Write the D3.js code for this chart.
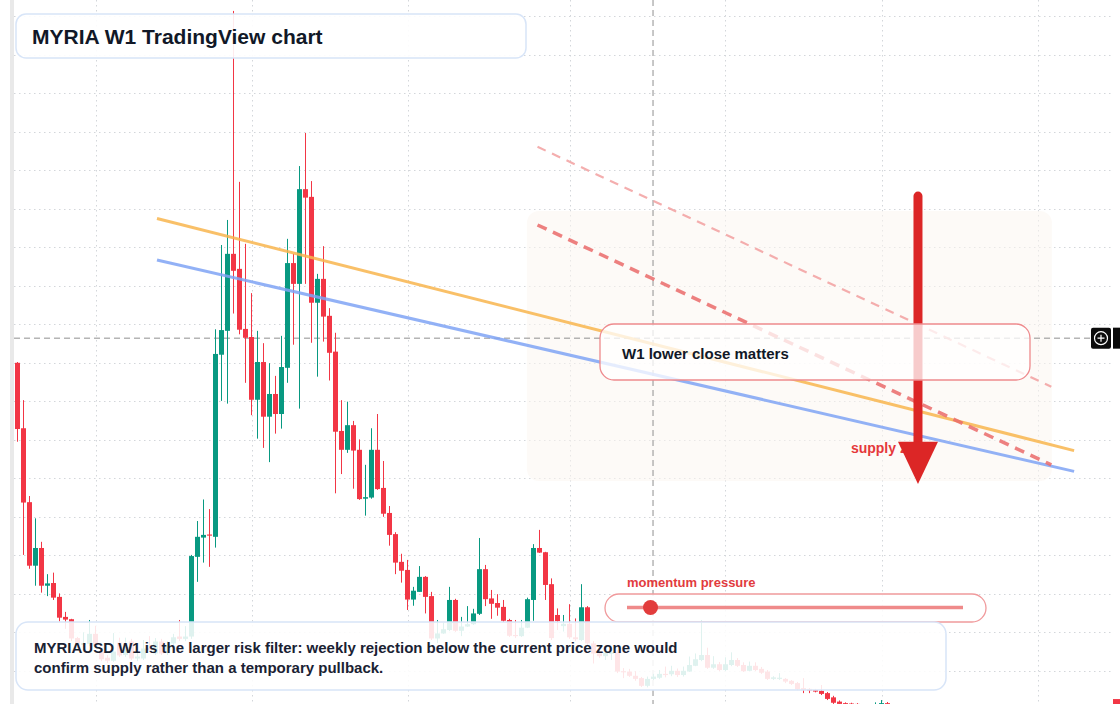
<!DOCTYPE html>
<html>
<head>
<meta charset="utf-8">
<script src="https://cdn.jsdelivr.net/npm/d3@7"></script>
<style>
html,body{margin:0;padding:0;background:#fff;overflow:hidden;}
svg{display:block;font-family:"Liberation Sans",Arial,Helvetica,sans-serif;}
</style>
</head>
<body>
<svg id="chart" width="1120" height="704"></svg>
<script>
// ---- data (weekly candles, price in 0.001 USD units) ----
const open = [9.00,7.30,5.38,3.73,4.19,3.21,3.28,2.92,2.40,2.34,
1.85,1.67,1.70,1.96,1.50,1.34,1.26,1.73,1.41,1.76,
1.32,1.32,1.59,1.45,1.76,1.46,1.71,1.89,1.83,1.89,
3.96,4.46,4.54,4.48,9.21,9.83,11.83,11.44,9.88,9.67,
8.04,9.02,7.60,8.19,7.67,8.87,11.59,11.05,13.51,13.31,
10.56,11.18,10.22,9.29,7.23,6.74,7.38,6.74,5.47,5.50,
6.74,5.75,5.10,4.55,3.83,3.62,2.85,3.05,3.44,2.94,
1.84,1.97,2.06,2.84,2.04,2.15,2.21,2.48,3.64,2.88,
2.76,2.66,2.32,1.93,1.90,2.12,2.84,4.19,4.08,3.25,
2.45,2.16,2.22,1.87,1.80,2.65,1.71,1.45,1.38,1.44,
1.48,0.99,0.98,0.87,0.81,0.61,0.79,0.82,0.92,0.91,
1.00,0.89,0.98,1.13,1.28,1.41,1.08,1.17,1.02,1.15,
1.28,1.15,1.00,1.13,1.05,0.98,0.79,0.79,0.79,0.74,
0.68,0.55,0.53,0.50,0.48,0.42,0.31,0.20,0.16,0.15,
0.14,0.10,0.09,0.06,0.11,0.16];
const high = [9.02,8.03,5.54,4.96,4.35,3.51,3.55,3.01,2.53,2.35,
1.88,2.00,2.32,2.17,1.59,1.41,1.98,1.86,1.86,1.83,
1.49,1.80,1.90,1.85,1.83,1.77,1.96,2.32,2.16,4.01,
4.89,5.45,5.20,9.87,12.06,12.71,18.14,13.70,12.09,10.81,
9.83,9.51,8.99,8.66,9.70,12.22,11.83,14.11,14.97,13.72,
11.31,12.03,10.42,9.78,8.03,7.99,7.49,7.01,6.35,7.30,
7.67,6.45,5.28,4.60,4.04,3.88,3.18,3.72,3.46,3.05,
2.32,2.25,3.18,2.87,2.40,2.68,2.61,4.45,3.75,3.10,
2.99,2.84,2.35,2.32,2.32,2.90,4.29,4.66,4.09,3.40,
2.62,2.45,2.73,2.36,3.25,2.68,1.77,1.54,1.59,1.54,
1.54,1.07,1.05,0.99,0.84,0.85,0.92,1.02,1.11,1.13,
1.06,1.11,1.37,1.45,2.32,1.60,1.38,1.23,1.35,1.48,
1.33,1.22,1.24,1.22,1.10,1.02,0.86,0.94,0.81,0.76,
0.71,0.81,0.55,0.53,0.63,0.45,0.35,0.23,0.18,0.17,
0.16,0.11,0.10,0.18,0.24,0.19];
const low = [6.95,4.01,3.65,3.21,3.03,2.94,2.84,2.28,2.09,1.77,
1.59,1.54,1.64,1.62,1.25,1.20,1.23,1.36,1.36,1.28,
1.25,1.28,1.49,1.41,1.41,1.41,1.67,1.77,1.77,1.83,
3.31,3.81,3.70,4.20,8.01,7.94,10.28,9.74,8.48,7.64,
7.03,6.79,6.42,7.16,7.29,8.48,9.47,7.81,11.05,9.52,
8.64,9.55,8.54,5.61,6.11,6.66,5.73,5.44,5.03,5.47,
5.70,5.00,4.25,3.51,3.29,2.58,2.69,3.05,2.49,1.80,
1.72,1.96,2.03,2.01,1.90,2.14,2.19,2.45,2.68,2.35,
2.43,2.27,1.88,1.85,1.88,2.11,2.30,4.06,2.84,1.80,
2.06,2.02,1.83,1.77,1.77,1.67,1.19,1.33,1.28,1.28,
0.94,0.81,0.84,0.74,0.58,0.57,0.76,0.79,0.83,0.86,
0.84,0.85,0.97,1.12,1.25,1.05,1.05,0.99,0.99,1.12,
1.10,0.97,0.99,0.99,0.92,0.76,0.76,0.76,0.68,0.63,
0.50,0.42,0.42,0.44,0.37,0.24,0.14,0.09,0.06,0.06,
0.03,0.01,0.01,0.03,0.07,0.06];
const close = [7.28,5.37,3.73,4.19,3.21,3.27,2.90,2.38,2.33,1.84,
1.65,1.72,1.96,1.65,1.30,1.26,1.50,1.40,1.63,1.32,
1.37,1.58,1.54,1.76,1.45,1.67,1.87,1.83,1.89,3.98,
4.48,4.53,4.51,9.23,9.85,11.83,11.39,9.86,9.65,8.04,
9.02,7.60,8.19,7.67,8.89,11.59,11.05,13.51,13.29,10.56,
11.18,10.20,9.26,7.21,6.74,7.38,6.72,5.46,5.51,6.74,
5.72,5.08,4.53,3.81,3.60,2.85,3.08,3.44,2.92,1.84,
1.97,2.08,2.84,2.04,2.15,2.21,2.49,3.64,2.86,2.74,
2.64,2.30,1.91,1.90,2.12,2.86,4.19,4.07,3.23,1.85,
2.29,2.22,1.87,1.82,2.65,1.71,1.45,1.38,1.47,1.48,
0.98,0.96,0.87,0.79,0.61,0.79,0.85,0.92,0.89,1.00,
0.89,1.00,1.15,1.30,1.41,1.08,1.17,1.02,1.17,1.28,
1.13,0.99,1.13,1.02,0.95,0.79,0.83,0.82,0.72,0.66,
0.52,0.50,0.49,0.46,0.40,0.27,0.17,0.14,0.11,0.10,
0.09,0.06,0.05,0.11,0.16,0.11];

// grid: week indices of vertical lines, price levels of horizontal lines
const gridWeeks = [13, 39, 65, 92, 118, 144, 170];
const gridPrices = d3.range(1, 19);

// drawn annotations (week index, price)
const orangeLine = [{w: 23.25, p: 12.75}, {w: 176.1, p: 6.72}];
const blueLine   = [{w: 23.25, p: 11.67}, {w: 176.1, p: 6.18}];
const dashLight  = [{w: 86.67, p: 14.61}, {w: 172.3, p: 8.38}];
const dashRed    = [{w: 86.67, p: 12.58}, {w: 172.3, p: 6.35}];
const zoneWeeks  = [84.9, 172.4];
const zonePrices = [12.94, 5.93];
const arrowWeek  = 150.08;
const arrowPrices = [13.33, 6.95, 5.85];   // top, head base, tip
const supplyLabel = {w: 138.9, p: 6.66, text: "supply zone"};
const crosshair = {w: 105.92, p: 9.64};
const momentumValue = 0.07;

const titleText = "MYRIA W1 TradingView chart";
const noteLines = ["MYRIAUSD W1 is the larger risk filter: weekly rejection below the current price zone would",
                   "confirm supply rather than a temporary pullback."];
const calloutText = "W1 lower close matters";
const momentumLabel = "momentum pressure";

// ---- scales ----
const W = 1120, H = 704;
const x = d3.scaleLinear().domain([0, 145]).range([17.5, 887.5]);
const y = d3.scaleLinear().domain([0, 18]).range([709.3, 16.3]);

const svg = d3.select("#chart");
svg.append("rect").attr("width", W).attr("height", H).attr("fill", "#ffffff");

// left pane edge
svg.append("rect").attr("x", 10).attr("y", 0).attr("width", 4).attr("height", H).attr("fill", "#e9e9e9");

// grid
const grid = svg.append("g").attr("stroke", "#d3d6da").attr("stroke-width", 1).attr("stroke-dasharray", "1.5,3.5");
grid.selectAll("line.h").data(gridPrices).join("line")
  .attr("x1", 14).attr("x2", 1112)
  .attr("y1", d => Math.round(y(d)) + 0.5).attr("y2", d => Math.round(y(d)) + 0.5);
grid.selectAll("line.v").data(gridWeeks).join("line")
  .attr("x1", d => Math.round(x(d)) + 0.5).attr("x2", d => Math.round(x(d)) + 0.5)
  .attr("y1", 0).attr("y2", H);

// supply zone shading
svg.append("rect")
  .attr("x", x(zoneWeeks[0])).attr("width", x(zoneWeeks[1]) - x(zoneWeeks[0]))
  .attr("y", y(zonePrices[0])).attr("height", y(zonePrices[1]) - y(zonePrices[0]))
  .attr("rx", 12).attr("fill", "#fcf6f0").attr("opacity", 0.55);

// crosshair lines
svg.append("line").attr("x1", x(crosshair.w)).attr("x2", x(crosshair.w)).attr("y1", 0).attr("y2", H)
  .attr("stroke", "#8f8f8f").attr("stroke-width", 1).attr("stroke-dasharray", "6,4");
svg.append("line").attr("x1", 14).attr("x2", 1090).attr("y1", y(crosshair.p)).attr("y2", y(crosshair.p))
  .attr("stroke", "#8f8f8f").attr("stroke-width", 1).attr("stroke-dasharray", "6,4");

// candles
const candles = open.map((o, i) => ({i, o, h: high[i], l: low[i], c: close[i]}));
const up = "#089981", dn = "#f23645";
const cg = svg.append("g");
cg.selectAll("line").data(candles).join("line")
  .attr("x1", d => x(d.i)).attr("x2", d => x(d.i))
  .attr("y1", d => y(d.h)).attr("y2", d => y(d.l))
  .attr("stroke", d => d.c >= d.o ? up : dn).attr("stroke-width", 1);
cg.selectAll("rect").data(candles).join("rect")
  .attr("x", d => x(d.i) - 2.5).attr("width", 5)
  .attr("y", d => y(Math.max(d.o, d.c)))
  .attr("height", d => Math.max(1, Math.abs(y(d.o) - y(d.c))))
  .attr("fill", d => d.c >= d.o ? up : dn);

// trend lines
const line = d3.line().x(d => x(d.w)).y(d => y(d.p));
svg.append("path").attr("d", line(orangeLine)).attr("fill", "none")
  .attr("stroke", "#f8b54e").attr("stroke-opacity", 0.85).attr("stroke-width", 3);
svg.append("path").attr("d", line(blueLine)).attr("fill", "none")
  .attr("stroke", "#7fa3f4").attr("stroke-opacity", 0.85).attr("stroke-width", 3);
svg.append("path").attr("d", line(dashLight)).attr("fill", "none")
  .attr("stroke", "#f19a9a").attr("stroke-opacity", 0.8).attr("stroke-width", 2.2).attr("stroke-dasharray", "9,7");
svg.append("path").attr("d", line(dashRed)).attr("fill", "none")
  .attr("stroke", "#ea6a6a").attr("stroke-opacity", 0.85).attr("stroke-width", 3.5).attr("stroke-dasharray", "10,7");

// supply label
svg.append("text").attr("x", x(supplyLabel.w)).attr("y", y(supplyLabel.p))
  .attr("font-size", 14).attr("font-weight", "bold").attr("fill", "#e5383b").text(supplyLabel.text);

// arrow
const ax = x(arrowWeek);
svg.append("line").attr("x1", ax).attr("x2", ax).attr("y1", y(arrowPrices[0])).attr("y2", y(arrowPrices[1]) + 2)
  .attr("stroke", "#dc2626").attr("stroke-width", 9).attr("stroke-linecap", "round");
svg.append("path")
  .attr("d", `M${ax - 20},${y(arrowPrices[1])} L${ax + 20},${y(arrowPrices[1])} L${ax},${y(arrowPrices[2])} Z`)
  .attr("fill", "#dc2626");

// callout box
svg.append("rect").attr("x", 600).attr("y", 324).attr("width", 430).attr("height", 56).attr("rx", 14)
  .attr("fill", "#ffffff").attr("fill-opacity", 0.76).attr("stroke", "#ee8a8d").attr("stroke-width", 1.3);
svg.append("text").attr("x", 622).attr("y", 359).attr("font-size", 15).attr("font-weight", "bold")
  .attr("fill", "#111827").text(calloutText);

// momentum pill
const mScale = d3.scaleLinear().domain([0, 1]).range([627, 963]);
svg.append("text").attr("x", 627).attr("y", 587).attr("font-size", 13).attr("font-weight", "bold")
  .attr("fill", "#e23b3e").text(momentumLabel);
svg.append("rect").attr("x", 605).attr("y", 594).attr("width", 381).attr("height", 28).attr("rx", 14)
  .attr("fill", "#ffffff").attr("fill-opacity", 0.85).attr("stroke", "#f09a9c").attr("stroke-width", 1.3);
svg.append("line").attr("x1", mScale(0)).attr("x2", mScale(1)).attr("y1", 607.5).attr("y2", 607.5)
  .attr("stroke", "#ef8a8a").attr("stroke-width", 3.5);
svg.append("circle").attr("cx", mScale(momentumValue)).attr("cy", 607.5).attr("r", 7.5).attr("fill", "#e23c3c");

// title box
svg.append("rect").attr("x", 16).attr("y", 14).attr("width", 510).attr("height", 44).attr("rx", 10)
  .attr("fill", "#ffffff").attr("fill-opacity", 0.9).attr("stroke", "#d8e5f8").attr("stroke-width", 1.5);
svg.append("text").attr("x", 32).attr("y", 43.5).attr("font-size", 21).attr("font-weight", "bold")
  .attr("fill", "#111827").text(titleText);

// note box
svg.append("rect").attr("x", 16).attr("y", 622).attr("width", 930).attr("height", 68).attr("rx", 12)
  .attr("fill", "#ffffff").attr("fill-opacity", 0.87).attr("stroke", "#d8e5f8").attr("stroke-width", 1.5);
svg.append("g").selectAll("text").data(noteLines).join("text")
  .attr("x", 34).attr("y", (d, i) => 653 + i * 20).attr("font-size", 15).attr("font-weight", "bold")
  .attr("fill", "#1a2233").text(d => d);

// crosshair marker on price scale
const cy = y(crosshair.p);
svg.append("rect").attr("x", 1091).attr("y", cy - 10.5).attr("width", 20).attr("height", 21).attr("rx", 2).attr("fill", "#0b0b0b");
svg.append("rect").attr("x", 1113).attr("y", cy - 10.5).attr("width", 7).attr("height", 21).attr("fill", "#0b0b0b");
svg.append("circle").attr("cx", 1101).attr("cy", cy).attr("r", 6.5).attr("fill", "none").attr("stroke", "#ffffff").attr("stroke-width", 1.2);
svg.append("path").attr("d", `M1097.5,${cy} H1104.5 M1101,${cy - 3.5} V${cy + 3.5}`).attr("stroke", "#ffffff").attr("stroke-width", 1.2);

// last price label
const lastY = y(close[close.length - 1]);
svg.append("rect").attr("x", 1113).attr("y", lastY - 6).attr("width", 7).attr("height", 14).attr("fill", dn);
</script>
</body>
</html>
